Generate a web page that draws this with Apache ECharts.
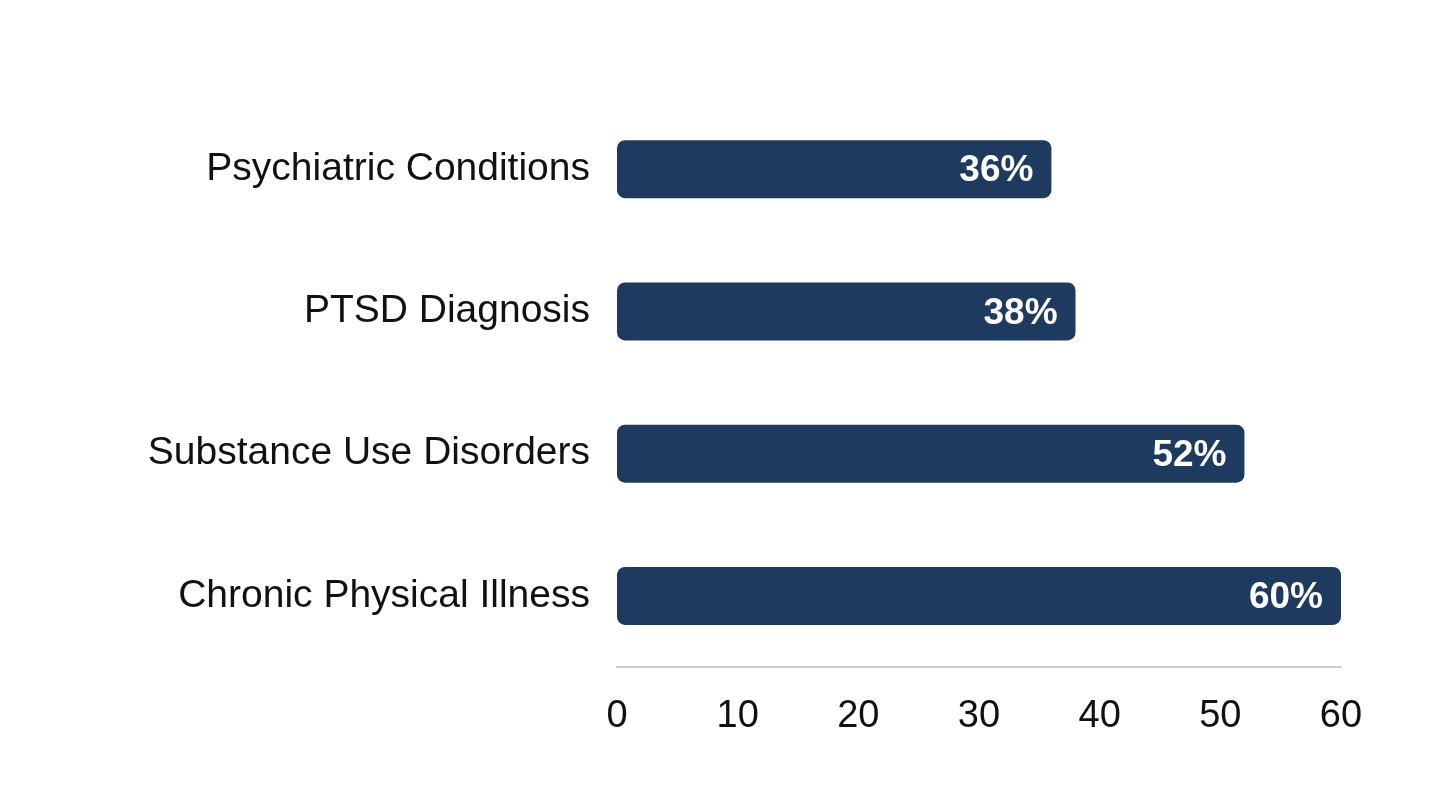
<!DOCTYPE html>
<html><head><meta charset="utf-8">
<script src="https://cdn.jsdelivr.net/npm/echarts@6/dist/echarts.min.js"></script>
<style>html,body{margin:0;padding:0;background:#fff;}#c{width:1456px;height:812px;}</style>
</head><body><div id="c"></div>
<script>
const categories = ["Psychiatric Conditions", "PTSD Diagnosis", "Substance Use Disorders", "Chronic Physical Illness"];
const values = [36, 38, 52, 60];
const xTicks = [0, 10, 20, 30, 40, 50, 60];

const chart = echarts.init(document.getElementById('c'));
chart.setOption({
  animation: false,
  grid: { left: 617, right: 115, top: 98, bottom: 145 },
  xAxis: {
    type: 'value', min: xTicks[0], max: xTicks[xTicks.length - 1], interval: 10,
    axisLine: { show: true, lineStyle: { color: '#cccccc', width: 2 } },
    axisTick: { show: false },
    splitLine: { show: false },
    axisLabel: { color: '#111', fontSize: 38, fontFamily: 'Liberation Sans, Arial, sans-serif', margin: 31 }
  },
  yAxis: {
    type: 'category', data: categories, inverse: true,
    axisLine: { show: false }, axisTick: { show: false },
    axisLabel: { color: '#111', fontSize: 39, fontFamily: 'Liberation Sans, Arial, sans-serif', margin: 27 }
  },
  series: [{
    type: 'bar', data: values, barWidth: 58,
    itemStyle: { color: '#1f3a5f', borderRadius: 8 },
    label: {
      show: true, position: 'insideRight', distance: 18, offset: [0, 2],
      formatter: '{c}%', color: '#fff', fontWeight: 'bold', fontSize: 37,
      fontFamily: 'Liberation Sans, Arial, sans-serif'
    }
  }]
});
</script></body></html>
